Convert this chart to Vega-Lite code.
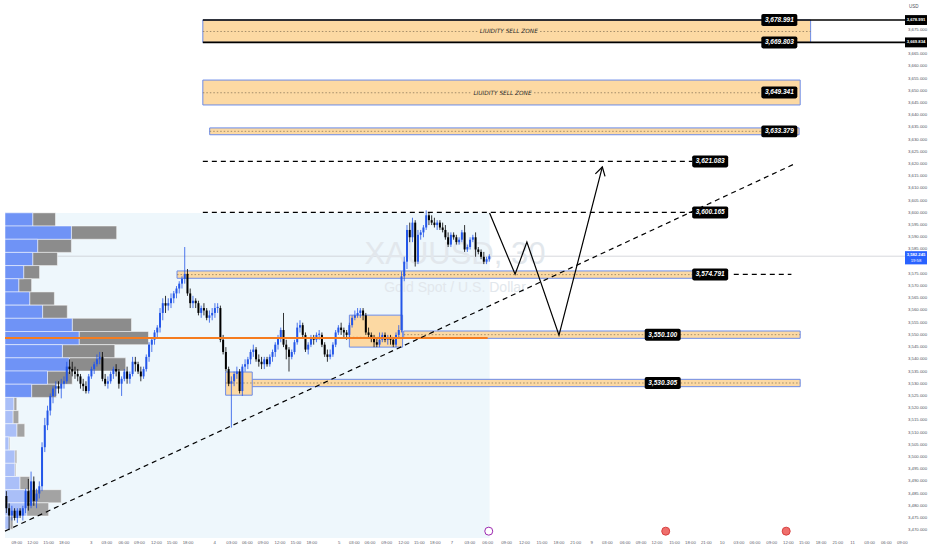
{
"$schema": "https://vega.github.io/schema/vega-lite/v6.json",
"width": 910, "height": 538,
"autosize": {"type": "none"},
"padding": {"left": 0, "top": 0, "right": 22, "bottom": 12},
"background": "#ffffff",
"config": {"view": {"stroke": null}},
"datasets": {
"candles": [
{"t":0.5,"o":3484,"h":3486,"l":3477,"c":3479},{"t":1.5,"o":3479,"h":3481,"l":3470,"c":3476},{"t":2.5,"o":3476,"h":3480,"l":3474,"c":3478},{"t":3.5,"o":3478,"h":3479,"l":3474,"c":3475},{"t":4.5,"o":3475,"h":3479,"l":3473,"c":3478},{"t":5.5,"o":3478,"h":3479,"l":3475,"c":3476},{"t":6.5,"o":3476,"h":3480,"l":3474,"c":3479},{"t":7.5,"o":3479,"h":3487,"l":3477,"c":3486},{"t":8.5,"o":3486,"h":3491,"l":3478,"c":3480},{"t":9.5,"o":3480,"h":3494,"l":3479,"c":3490},
{"t":10.5,"o":3490,"h":3492,"l":3480,"c":3482},{"t":11.5,"o":3482,"h":3487,"l":3479,"c":3485},{"t":12.5,"o":3485,"h":3490,"l":3483,"c":3488},{"t":13.5,"o":3488,"h":3506,"l":3486,"c":3504},{"t":14.5,"o":3504,"h":3516,"l":3502,"c":3513},{"t":15.5,"o":3513,"h":3521,"l":3511,"c":3519},{"t":16.5,"o":3519,"h":3526,"l":3517,"c":3525},{"t":17.5,"o":3525,"h":3529,"l":3522,"c":3528},{"t":18.5,"o":3528,"h":3531,"l":3525,"c":3529},{"t":19.5,"o":3529,"h":3531,"l":3526,"c":3528},
{"t":20.5,"o":3528,"h":3532,"l":3524,"c":3530},{"t":21.5,"o":3530,"h":3533,"l":3528,"c":3531},{"t":22.5,"o":3531,"h":3539,"l":3530,"c":3537},{"t":23.5,"o":3537,"h":3540,"l":3534,"c":3536},{"t":24.5,"o":3536,"h":3539,"l":3533,"c":3535},{"t":25.5,"o":3535,"h":3537,"l":3532,"c":3534},{"t":26.5,"o":3534,"h":3536,"l":3531,"c":3533},{"t":27.5,"o":3533,"h":3534,"l":3528,"c":3530},{"t":28.5,"o":3530,"h":3532,"l":3527,"c":3529},{"t":29.5,"o":3529,"h":3531,"l":3526,"c":3527},
{"t":30.5,"o":3527,"h":3534,"l":3526,"c":3533},{"t":31.5,"o":3533,"h":3537,"l":3532,"c":3536},{"t":32.5,"o":3536,"h":3539,"l":3534,"c":3538},{"t":33.5,"o":3538,"h":3542,"l":3537,"c":3540},{"t":34.5,"o":3540,"h":3543,"l":3538,"c":3541},{"t":35.5,"o":3541,"h":3543,"l":3531,"c":3532},{"t":36.5,"o":3532,"h":3534,"l":3529,"c":3530},{"t":37.5,"o":3530,"h":3533,"l":3528,"c":3531},{"t":38.5,"o":3531,"h":3535,"l":3530,"c":3534},{"t":39.5,"o":3534,"h":3537,"l":3532,"c":3536},
{"t":40.5,"o":3536,"h":3538,"l":3533,"c":3535},{"t":41.5,"o":3535,"h":3536,"l":3528,"c":3530},{"t":42.5,"o":3530,"h":3533,"l":3525,"c":3532},{"t":43.5,"o":3532,"h":3536,"l":3531,"c":3535},{"t":44.5,"o":3535,"h":3537,"l":3530,"c":3532},{"t":45.5,"o":3532,"h":3535,"l":3530,"c":3534},{"t":46.5,"o":3534,"h":3541,"l":3533,"c":3539},{"t":47.5,"o":3539,"h":3541,"l":3535,"c":3538},{"t":48.5,"o":3538,"h":3539,"l":3534,"c":3535},{"t":49.5,"o":3535,"h":3537,"l":3531,"c":3533},
{"t":50.5,"o":3533,"h":3537,"l":3532,"c":3536},{"t":51.5,"o":3536,"h":3542,"l":3535,"c":3541},{"t":52.5,"o":3541,"h":3547,"l":3539,"c":3546},{"t":53.5,"o":3546,"h":3549,"l":3543,"c":3548},{"t":54.5,"o":3548,"h":3552,"l":3546,"c":3551},{"t":55.5,"o":3551,"h":3554,"l":3549,"c":3553},{"t":56.5,"o":3553,"h":3561,"l":3551,"c":3559},{"t":57.5,"o":3559,"h":3565,"l":3556,"c":3563},{"t":58.5,"o":3563,"h":3566,"l":3559,"c":3562},{"t":59.5,"o":3562,"h":3565,"l":3560,"c":3563},
{"t":60.5,"o":3563,"h":3567,"l":3561,"c":3565},{"t":61.5,"o":3565,"h":3568,"l":3563,"c":3567},{"t":62.5,"o":3567,"h":3570,"l":3565,"c":3569},{"t":63.5,"o":3569,"h":3572,"l":3567,"c":3571},{"t":64.5,"o":3571,"h":3574,"l":3569,"c":3573},{"t":65.5,"o":3573,"h":3586,"l":3571,"c":3575},{"t":66.5,"o":3575,"h":3577,"l":3566,"c":3567},{"t":67.5,"o":3567,"h":3569,"l":3561,"c":3563},{"t":68.5,"o":3563,"h":3566,"l":3561,"c":3564},{"t":69.5,"o":3564,"h":3565,"l":3561,"c":3563},
{"t":70.5,"o":3563,"h":3564,"l":3558,"c":3559},{"t":71.5,"o":3559,"h":3562,"l":3557,"c":3561},{"t":72.5,"o":3561,"h":3563,"l":3558,"c":3560},{"t":73.5,"o":3560,"h":3561,"l":3556,"c":3557},{"t":74.5,"o":3557,"h":3560,"l":3555,"c":3558},{"t":75.5,"o":3558,"h":3561,"l":3556,"c":3559},{"t":76.5,"o":3559,"h":3563,"l":3557,"c":3561},{"t":77.5,"o":3561,"h":3563,"l":3559,"c":3561.5},{"t":78.5,"o":3561,"h":3562,"l":3547,"c":3548},{"t":79.5,"o":3548,"h":3550,"l":3542,"c":3543},
{"t":80.5,"o":3543,"h":3545,"l":3535,"c":3536},{"t":81.5,"o":3536,"h":3537,"l":3529,"c":3530},{"t":82.5,"o":3530,"h":3533,"l":3512,"c":3531},{"t":83.5,"o":3531,"h":3535,"l":3529,"c":3534},{"t":84.5,"o":3534,"h":3537,"l":3532,"c":3535},{"t":85.5,"o":3535,"h":3536,"l":3526,"c":3527},{"t":86.5,"o":3527,"h":3538,"l":3525,"c":3537},{"t":87.5,"o":3537,"h":3540,"l":3535,"c":3538},{"t":88.5,"o":3538,"h":3541,"l":3536,"c":3540},{"t":89.5,"o":3540,"h":3544,"l":3538,"c":3543},
{"t":90.5,"o":3543,"h":3546,"l":3541,"c":3544},{"t":91.5,"o":3544,"h":3545,"l":3539,"c":3540},{"t":92.5,"o":3540,"h":3542,"l":3537,"c":3539},{"t":93.5,"o":3539,"h":3541,"l":3536,"c":3538},{"t":94.5,"o":3538,"h":3541,"l":3536,"c":3540},{"t":95.5,"o":3540,"h":3541,"l":3537,"c":3538},{"t":96.5,"o":3538,"h":3542,"l":3537,"c":3541},{"t":97.5,"o":3541,"h":3544,"l":3539,"c":3543},{"t":98.5,"o":3543,"h":3547,"l":3541,"c":3546},{"t":99.5,"o":3546,"h":3550,"l":3544,"c":3549},
{"t":100.5,"o":3549,"h":3553,"l":3547,"c":3552},{"t":101.5,"o":3552,"h":3559,"l":3545,"c":3546},{"t":102.5,"o":3546,"h":3548,"l":3540,"c":3544},{"t":103.5,"o":3544,"h":3545,"l":3535,"c":3541},{"t":104.5,"o":3541,"h":3544,"l":3540,"c":3543},{"t":105.5,"o":3543,"h":3548,"l":3542,"c":3547},{"t":106.5,"o":3547,"h":3555,"l":3546,"c":3553},{"t":107.5,"o":3553,"h":3556,"l":3551,"c":3554},{"t":108.5,"o":3554,"h":3555,"l":3549,"c":3550},{"t":109.5,"o":3550,"h":3551,"l":3543,"c":3544},
{"t":110.5,"o":3544,"h":3547,"l":3542,"c":3546},{"t":111.5,"o":3546,"h":3550,"l":3545,"c":3549},{"t":112.5,"o":3549,"h":3550,"l":3546,"c":3548},{"t":113.5,"o":3548,"h":3551,"l":3547,"c":3550},{"t":114.5,"o":3550,"h":3552,"l":3548,"c":3550.5},{"t":115.5,"o":3550,"h":3551,"l":3545,"c":3546},{"t":116.5,"o":3546,"h":3547,"l":3541,"c":3542},{"t":117.5,"o":3542,"h":3544,"l":3539,"c":3541},{"t":118.5,"o":3541,"h":3544,"l":3540,"c":3542},{"t":119.5,"o":3542,"h":3547,"l":3541,"c":3546},
{"t":120.5,"o":3546,"h":3552,"l":3545,"c":3551},{"t":121.5,"o":3551,"h":3554,"l":3550,"c":3553},{"t":122.5,"o":3553,"h":3555,"l":3550,"c":3552},{"t":123.5,"o":3552,"h":3553,"l":3549,"c":3551},{"t":124.5,"o":3551,"h":3552,"l":3548,"c":3550},{"t":125.5,"o":3550,"h":3555,"l":3549,"c":3554},{"t":126.5,"o":3554,"h":3558,"l":3553,"c":3557},{"t":127.5,"o":3557,"h":3560,"l":3556,"c":3558},{"t":128.5,"o":3558,"h":3561,"l":3557,"c":3559},{"t":129.5,"o":3559,"h":3561,"l":3557,"c":3560},
{"t":130.5,"o":3560,"h":3561,"l":3556,"c":3558},{"t":131.5,"o":3558,"h":3559,"l":3550,"c":3551},{"t":132.5,"o":3551,"h":3553,"l":3549,"c":3550},{"t":133.5,"o":3550,"h":3551,"l":3547,"c":3549},{"t":134.5,"o":3549,"h":3550,"l":3545,"c":3547},{"t":135.5,"o":3547,"h":3549,"l":3545,"c":3546},{"t":136.5,"o":3546,"h":3551,"l":3545,"c":3548},{"t":137.5,"o":3548,"h":3551,"l":3547,"c":3550},{"t":138.5,"o":3550,"h":3551,"l":3547,"c":3548},{"t":139.5,"o":3548,"h":3550,"l":3546,"c":3549},
{"t":140.5,"o":3549,"h":3550,"l":3546,"c":3548},{"t":141.5,"o":3548,"h":3549,"l":3545,"c":3546},{"t":142.5,"o":3546,"h":3551,"l":3545,"c":3550},{"t":143.5,"o":3550,"h":3554,"l":3549,"c":3552},{"t":144.5,"o":3552,"h":3576,"l":3551,"c":3574},{"t":145.5,"o":3574,"h":3582,"l":3572,"c":3580},{"t":146.5,"o":3580,"h":3595,"l":3577,"c":3593},{"t":147.5,"o":3593,"h":3596,"l":3588,"c":3590},{"t":148.5,"o":3590,"h":3598,"l":3588,"c":3596},{"t":149.5,"o":3596,"h":3597,"l":3578,"c":3580},
{"t":150.5,"o":3580,"h":3593,"l":3579,"c":3591},{"t":151.5,"o":3591,"h":3593,"l":3589,"c":3592},{"t":152.5,"o":3592,"h":3595,"l":3590,"c":3594},{"t":153.5,"o":3594,"h":3601,"l":3593,"c":3599},{"t":154.5,"o":3599,"h":3600,"l":3595,"c":3597},{"t":155.5,"o":3597,"h":3599,"l":3595,"c":3596},{"t":156.5,"o":3596,"h":3598,"l":3594,"c":3595},{"t":157.5,"o":3595,"h":3597,"l":3593,"c":3596},{"t":158.5,"o":3596,"h":3597,"l":3593,"c":3594},{"t":159.5,"o":3594,"h":3596,"l":3592,"c":3593},
{"t":160.5,"o":3593,"h":3595,"l":3589,"c":3590},{"t":161.5,"o":3590,"h":3592,"l":3586,"c":3587},{"t":162.5,"o":3587,"h":3592,"l":3586,"c":3591},{"t":163.5,"o":3591,"h":3592,"l":3589,"c":3590},{"t":164.5,"o":3590,"h":3591,"l":3587,"c":3588},{"t":165.5,"o":3588,"h":3590,"l":3587,"c":3589},{"t":166.5,"o":3589,"h":3593,"l":3588,"c":3592},{"t":167.5,"o":3592,"h":3595,"l":3584,"c":3585},{"t":168.5,"o":3585,"h":3587,"l":3584,"c":3586},{"t":169.5,"o":3586,"h":3590,"l":3585,"c":3589},
{"t":170.5,"o":3589,"h":3591,"l":3588,"c":3590},{"t":171.5,"o":3590,"h":3592,"l":3582,"c":3585},{"t":172.5,"o":3585,"h":3586,"l":3583,"c":3584},{"t":173.5,"o":3584,"h":3585,"l":3581,"c":3582},{"t":174.5,"o":3582,"h":3584,"l":3579,"c":3580},{"t":175.5,"o":3580,"h":3582,"l":3579,"c":3581},{"t":176.5,"o":3581,"h":3583,"l":3580,"c":3582.245}
],
"profile": [
{"hi":3600.0,"lo":3594.6,"buy":10.1,"total":18.4},{"hi":3594.6,"lo":3589.2,"buy":24.2,"total":40.7},{"hi":3589.2,"lo":3583.8,"buy":11.9,"total":24.2},{"hi":3583.8,"lo":3578.4,"buy":10.1,"total":19.1},{"hi":3578.4,"lo":3573.0,"buy":6.8,"total":12.6},{"hi":3573.0,"lo":3567.6,"buy":5.0,"total":9.7},{"hi":3567.6,"lo":3562.2,"buy":9.0,"total":18.0},{"hi":3562.2,"lo":3556.8,"buy":13.7,"total":22.7},{"hi":3556.8,"lo":3551.4,"buy":24.5,"total":46.1},{"hi":3551.4,"lo":3546.0,"buy":27.0,"total":52.3},{"hi":3546.0,"lo":3540.6,"buy":20.9,"total":40.0},{"hi":3540.6,"lo":3535.2,"buy":23.4,"total":44.0},
{"hi":3535.2,"lo":3529.8,"buy":15.5,"total":24.5},{"hi":3529.8,"lo":3524.4,"buy":9.7,"total":18.7},{"hi":3524.4,"lo":3519.0,"buy":3.2,"total":4.3},{"hi":3519.0,"lo":3513.6,"buy":2.9,"total":5.0},{"hi":3513.6,"lo":3508.2,"buy":4.3,"total":7.2},{"hi":3508.2,"lo":3502.8,"buy":1.4,"total":1.8},{"hi":3502.8,"lo":3497.4,"buy":3.6,"total":4.3},{"hi":3497.4,"lo":3492.0,"buy":3.6,"total":4.0},{"hi":3492.0,"lo":3486.6,"buy":5.4,"total":9.0},{"hi":3486.6,"lo":3481.2,"buy":8.3,"total":20.5},{"hi":3481.2,"lo":3475.8,"buy":7.9,"total":15.9},{"hi":3475.8,"lo":3470.4,"buy":1.8,"total":2.9}
],
"zones": [
{"x0":72.1,"x1":293.6,"lo":3669.834,"hi":3678.991},
{"x0":72.1,"x1":289.8,"lo":3644.2,"hi":3654.4},
{"x0":74.6,"x1":289.4,"lo":3632.0,"hi":3634.8},
{"x0":62.7,"x1":250.5,"lo":3573.2,"hi":3576.2},
{"x0":145.3,"x1":289.8,"lo":3548.6,"hi":3551.6},
{"x0":80.4,"x1":289.8,"lo":3528.8,"hi":3531.8},
{"x0":125.5,"x1":144.9,"lo":3545.0,"hi":3558.1},
{"x0":80.4,"x1":90.1,"lo":3525.3,"hi":3534.8}
],
"mids": [
{"x0":72.1,"x1":172.3,"p":3674.3},{"x0":195.0,"x1":293.6,"p":3674.3},
{"x0":72.1,"x1":169.8,"p":3649.2},{"x0":192.8,"x1":275.7,"p":3649.2},
{"x0":74.6,"x1":275.7,"p":3633.4},
{"x0":62.7,"x1":250.5,"p":3574.7},
{"x0":145.3,"x1":289.8,"p":3550.1},
{"x0":80.4,"x1":289.8,"p":3530.3},
{"x0":125.5,"x1":144.9,"p":3549.0}
],
"zonetext": [
{"t":183.6,"p":3674.3,"txt":"LIUIDITY SELL ZONE"},
{"t":181.3,"p":3649.2,"txt":"LIUIDITY SELL ZONE"}
],
"dashed": [
{"x0":72.1,"x1":250.5,"p":3621.083},
{"x0":72.1,"x1":250.5,"p":3600.165},
{"x0":265.6,"x1":286.6,"p":3574.791}
],
"edges": [
{"x0":72.1,"x1":332,"p":3678.991},
{"x0":72.1,"x1":332,"p":3669.834}
],
"trend": [
{"t":0,"p":3469.6},{"t":288.4,"p":3620.4}
],
"path": [
{"seq":1,"t":176.6,"p":3599.9},{"seq":2,"t":185.9,"p":3574.9},{"seq":3,"t":190.2,"p":3588.0},{"seq":4,"t":201.9,"p":3549.9},{"seq":5,"t":217.7,"p":3618.8}
],
"tags": [
{"t":282.2,"p":3678.991,"txt":"3,678.991"},{"t":282.2,"p":3669.834,"txt":"3,669.803"},{"t":282.2,"p":3649.341,"txt":"3,649.341"},{"t":282.2,"p":3633.379,"txt":"3,633.379"},{"t":257.0,"p":3621.083,"txt":"3,621.083"},{"t":257.0,"p":3600.165,"txt":"3,600.165"},{"t":257.0,"p":3574.791,"txt":"3,574.791"},{"t":239.7,"p":3550.1,"txt":"3,550.100"},{"t":239.7,"p":3530.305,"txt":"3,530.305"}
],
"axistags": [
{"p":3678.991,"txt":"3,678.991"},{"p":3669.834,"txt":"3,669.834"}
],
"events": [
{"t":176.3,"kind":"news"},{"t":240.8,"kind":"us"},{"t":284.7,"kind":"us"}
],
"xticks": [
{"t":4.3,"lab":"09:00"},{"t":10.1,"lab":"12:00"},{"t":15.9,"lab":"15:00"},{"t":21.6,"lab":"18:00"},{"t":31.4,"lab":"3"},{"t":37.1,"lab":"03:00"},{"t":43.3,"lab":"06:00"},{"t":49.0,"lab":"09:00"},{"t":55.2,"lab":"12:00"},{"t":60.9,"lab":"15:00"},{"t":66.7,"lab":"18:00"},{"t":76.4,"lab":"4"},{"t":82.6,"lab":"03:00"},{"t":88.3,"lab":"06:00"},{"t":94.1,"lab":"09:00"},{"t":100.2,"lab":"12:00"},{"t":106.0,"lab":"15:00"},{"t":111.8,"lab":"18:00"},{"t":121.8,"lab":"5"},{"t":127.3,"lab":"03:00"},{"t":133.0,"lab":"06:00"},{"t":139.1,"lab":"09:00"},{"t":145.3,"lab":"12:00"},{"t":151.0,"lab":"15:00"},{"t":156.8,"lab":"18:00"},{"t":162.9,"lab":"7"},{"t":169.4,"lab":"03:00"},{"t":175.9,"lab":"06:00"},{"t":182.8,"lab":"09:00"},{"t":189.3,"lab":"12:00"},{"t":195.7,"lab":"15:00"},{"t":201.9,"lab":"18:00"},{"t":208.0,"lab":"21:00"},{"t":213.8,"lab":"9"},{"t":219.5,"lab":"03:00"},{"t":226.0,"lab":"06:00"},{"t":231.8,"lab":"09:00"},{"t":237.6,"lab":"12:00"},{"t":244.0,"lab":"15:00"},{"t":249.8,"lab":"18:00"},{"t":255.6,"lab":"21:00"},{"t":261.4,"lab":"10"},{"t":267.5,"lab":"03:00"},{"t":273.3,"lab":"06:00"},{"t":279.4,"lab":"09:00"},{"t":285.5,"lab":"12:00"},{"t":291.3,"lab":"15:00"},{"t":297.4,"lab":"18:00"},{"t":303.5,"lab":"21:00"},{"t":308.9,"lab":"11"},{"t":315.1,"lab":"03:00"},{"t":321.2,"lab":"06:00"},{"t":327.0,"lab":"09:00"}
],
"yticks": [
{"p":3470},{"p":3475},{"p":3480},{"p":3485},{"p":3490},{"p":3495},{"p":3500},{"p":3505},{"p":3510},{"p":3515},{"p":3520},{"p":3525},{"p":3530},{"p":3535},{"p":3540},{"p":3545},{"p":3550},{"p":3555},{"p":3560},{"p":3565},{"p":3570},{"p":3575},{"p":3585},{"p":3590},{"p":3595},{"p":3600},{"p":3605},{"p":3610},{"p":3615},{"p":3620},{"p":3625},{"p":3630},{"p":3635},{"p":3640},{"p":3645},{"p":3650},{"p":3655},{"p":3660},{"p":3665},{"p":3675}
]
},
"layer": [
{"data": {"values": [{}]},
 "mark": {"type": "rect", "color": "#eef7fc"},
 "encoding": {
  "x": {"datum": 0, "type": "quantitative", "scale": {"domain": [0, 328], "nice": false, "zero": false}, "axis": null},
  "x2": {"datum": 176.6},
  "y": {"datum": 3466.8, "type": "quantitative", "scale": {"domain": [3466.8, 3687.2], "nice": false, "zero": false}, "axis": null},
  "y2": {"datum": 3599.9}
 }},
{"data": {"name": "xticks"},
 "mark": {"type": "text", "font": "Liberation Sans", "fontSize": 4.3, "color": "#5d606b", "align": "center", "baseline": "top", "dy": 3},
 "encoding": {"x": {"field": "t", "type": "quantitative", "axis": null}, "y": {"datum": 3466.8, "type": "quantitative", "axis": null}, "text": {"field": "lab", "type": "nominal"}}},
{"data": {"name": "yticks"},
 "mark": {"type": "text", "font": "Liberation Sans", "fontSize": 4.3, "color": "#50535e", "align": "left", "baseline": "middle", "dx": 3},
 "encoding": {"x": {"datum": 328, "type": "quantitative", "axis": null}, "y": {"field": "p", "type": "quantitative", "axis": null}, "text": {"field": "p", "type": "quantitative", "format": ",.3f"}}},
{"data": {"values": [{}]},
 "mark": {"type": "text", "font": "Liberation Sans", "fontSize": 4.5, "color": "#50535e", "align": "left", "baseline": "middle", "dx": 4, "dy": 7, "text": "USD"},
 "encoding": {"x": {"datum": 328, "type": "quantitative", "axis": null}, "y": {"datum": 3687.2, "type": "quantitative", "axis": null}}},
{"data": {"values": [{}]},
 "mark": {"type": "rule", "color": "#c5c8ce", "strokeWidth": 0.7},
 "encoding": {"x": {"datum": 0, "type": "quantitative", "axis": null}, "x2": {"datum": 328}, "y": {"datum": 3582.245, "type": "quantitative", "axis": null}}},
{"data": {"name": "profile"},
 "mark": {"type": "rect", "stroke": "#ffffff", "strokeWidth": 0.5},
 "encoding": {"x": {"field": "buy", "type": "quantitative", "axis": null}, "x2": {"field": "total"}, "y": {"field": "lo", "type": "quantitative", "axis": null}, "y2": {"field": "hi"},
  "fill": {"condition": {"test": "datum.lo >= 3524", "value": "#8c8c8c"}, "value": "#a3a3a3"}}},
{"data": {"name": "profile"},
 "mark": {"type": "rect", "stroke": "#ffffff", "strokeWidth": 0.5},
 "encoding": {"x": {"field": "buy", "type": "quantitative", "axis": null}, "x2": {"datum": 0}, "y": {"field": "lo", "type": "quantitative", "axis": null}, "y2": {"field": "hi"},
  "fill": {"condition": {"test": "datum.lo >= 3524", "value": "#6f93f6"}, "value": "#aabff8"}}},
{"data": {"name": "zones"},
 "mark": {"type": "rect", "fill": "#fcd9a3", "stroke": "#6b8be8", "strokeWidth": 1},
 "encoding": {"x": {"field": "x0", "type": "quantitative", "axis": null}, "x2": {"field": "x1"}, "y": {"field": "lo", "type": "quantitative", "axis": null}, "y2": {"field": "hi"}}},
{"data": {"name": "mids"},
 "mark": {"type": "rule", "color": "#8d7a5c", "strokeWidth": 0.8, "strokeDash": [1.5, 2]},
 "encoding": {"x": {"field": "x0", "type": "quantitative", "axis": null}, "x2": {"field": "x1"}, "y": {"field": "p", "type": "quantitative", "axis": null}}},
{"data": {"name": "zonetext"},
 "mark": {"type": "text", "font": "DejaVu Sans", "fontSize": 5.8, "fontStyle": "italic", "color": "#2a2a2a", "align": "center", "baseline": "middle"},
 "encoding": {"x": {"field": "t", "type": "quantitative", "axis": null}, "y": {"field": "p", "type": "quantitative", "axis": null}, "text": {"field": "txt", "type": "nominal"}}},
{"data": {"values": [{}]},
 "mark": {"type": "text", "font": "Liberation Sans", "fontSize": 31, "color": "#e2e7ec", "align": "center", "baseline": "middle", "text": "XAUUSD, 30"},
 "encoding": {"x": {"datum": 164, "type": "quantitative", "axis": null}, "y": {"datum": 3582.7, "type": "quantitative", "axis": null}}},
{"data": {"values": [{}]},
 "mark": {"type": "text", "font": "Liberation Sans", "fontSize": 14, "color": "#e2e7ec", "align": "center", "baseline": "middle", "text": "Gold Spot / U.S. Dollar"},
 "encoding": {"x": {"datum": 164, "type": "quantitative", "axis": null}, "y": {"datum": 3569.2, "type": "quantitative", "axis": null}}},
{"data": {"name": "candles"},
 "mark": {"type": "rule", "strokeWidth": 0.8},
 "encoding": {"x": {"field": "t", "type": "quantitative", "axis": null}, "y": {"field": "l", "type": "quantitative", "axis": null}, "y2": {"field": "h"},
  "color": {"condition": {"test": "datum.c >= datum.o", "value": "#2356e8"}, "value": "#000000"}}},
{"data": {"name": "candles"},
 "mark": {"type": "bar", "size": 2},
 "encoding": {"x": {"field": "t", "type": "quantitative", "axis": null}, "y": {"field": "o", "type": "quantitative", "axis": null}, "y2": {"field": "c"},
  "color": {"condition": {"test": "datum.c >= datum.o", "value": "#2356e8"}, "value": "#000000"}}},
{"data": {"values": [{}]},
 "mark": {"type": "rule", "color": "#f57c1f", "strokeWidth": 2},
 "encoding": {"x": {"datum": 0, "type": "quantitative", "axis": null}, "x2": {"datum": 175.9}, "y": {"datum": 3548.7, "type": "quantitative", "axis": null}}},
{"data": {"name": "dashed"},
 "mark": {"type": "rule", "color": "#000000", "strokeWidth": 1.3, "strokeDash": [5, 4]},
 "encoding": {"x": {"field": "x0", "type": "quantitative", "axis": null}, "x2": {"field": "x1"}, "y": {"field": "p", "type": "quantitative", "axis": null}}},
{"data": {"name": "trend"},
 "mark": {"type": "line", "color": "#000000", "strokeWidth": 1.2, "strokeDash": [5, 4]},
 "encoding": {"x": {"field": "t", "type": "quantitative", "axis": null}, "y": {"field": "p", "type": "quantitative", "axis": null}}},
{"data": {"name": "edges"},
 "mark": {"type": "rule", "color": "#000000", "strokeWidth": 1.6},
 "encoding": {"x": {"field": "x0", "type": "quantitative", "axis": null}, "x2": {"field": "x1"}, "y": {"field": "p", "type": "quantitative", "axis": null}}},
{"data": {"name": "path"},
 "mark": {"type": "line", "color": "#000000", "strokeWidth": 1.2},
 "encoding": {"x": {"field": "t", "type": "quantitative", "axis": null}, "y": {"field": "p", "type": "quantitative", "axis": null}, "order": {"field": "seq", "type": "quantitative"}}},
{"data": {"values": [{}]},
 "mark": {"type": "point", "shape": "M-0.5,0.85L0,0L0.5,0.85", "size": 400, "filled": false, "stroke": "#000000", "strokeWidth": 1.2, "opacity": 1, "angle": 14.7},
 "encoding": {"x": {"datum": 217.7, "type": "quantitative", "axis": null}, "y": {"datum": 3618.8, "type": "quantitative", "axis": null}}},
{"data": {"name": "tags"},
 "mark": {"type": "point", "shape": "M-0.9,-0.333H0.9Q1,-0.333 1,-0.233V0.233Q1,0.333 0.9,0.333H-0.9Q-1,0.333 -1,0.233V-0.233Q-1,-0.333 -0.9,-0.333Z", "size": 1296, "filled": true, "color": "#000000", "opacity": 1},
 "encoding": {"x": {"field": "t", "type": "quantitative", "axis": null}, "y": {"field": "p", "type": "quantitative", "axis": null}}},
{"data": {"name": "tags"},
 "mark": {"type": "text", "font": "Liberation Sans", "fontSize": 6.5, "fontWeight": "bold", "fontStyle": "italic", "color": "#ffffff", "align": "center", "baseline": "middle"},
 "encoding": {"x": {"field": "t", "type": "quantitative", "axis": null}, "y": {"field": "p", "type": "quantitative", "axis": null}, "text": {"field": "txt", "type": "nominal"}}},
{"data": {"name": "axistags"},
 "mark": {"type": "point", "shape": "M-1,-0.45H1V0.45H-1Z", "size": 484, "filled": true, "color": "#000000", "opacity": 1},
 "encoding": {"x": {"datum": 332, "type": "quantitative", "axis": null}, "y": {"field": "p", "type": "quantitative", "axis": null}}},
{"data": {"name": "axistags"},
 "mark": {"type": "text", "font": "Liberation Sans", "fontSize": 4.2, "fontWeight": "bold", "color": "#ffffff", "align": "center", "baseline": "middle"},
 "encoding": {"x": {"datum": 332, "type": "quantitative", "axis": null}, "y": {"field": "p", "type": "quantitative", "axis": null}, "text": {"field": "txt", "type": "nominal"}}},
{"data": {"values": [{}]},
 "mark": {"type": "point", "shape": "M-1,-0.6H1V0.6H-1Z", "size": 484, "filled": true, "color": "#2962ff", "opacity": 1},
 "encoding": {"x": {"datum": 332, "type": "quantitative", "axis": null}, "y": {"datum": 3581.6, "type": "quantitative", "axis": null}}},
{"data": {"values": [{}]},
 "mark": {"type": "text", "font": "Liberation Sans", "fontSize": 4.2, "fontWeight": "bold", "color": "#ffffff", "align": "center", "baseline": "middle", "dy": -2.6, "text": "3,582.245"},
 "encoding": {"x": {"datum": 332, "type": "quantitative", "axis": null}, "y": {"datum": 3581.6, "type": "quantitative", "axis": null}}},
{"data": {"values": [{}]},
 "mark": {"type": "text", "font": "Liberation Sans", "fontSize": 4.2, "color": "#ffffff", "align": "center", "baseline": "middle", "dy": 2.8, "text": "19:58"},
 "encoding": {"x": {"datum": 332, "type": "quantitative", "axis": null}, "y": {"datum": 3581.6, "type": "quantitative", "axis": null}}},
{"data": {"name": "events"},
 "mark": {"type": "point", "shape": "circle", "size": 64, "filled": true, "opacity": 1, "strokeWidth": 1},
 "encoding": {"x": {"field": "t", "type": "quantitative", "axis": null}, "y": {"datum": 3469.6, "type": "quantitative", "axis": null},
  "fill": {"field": "kind", "type": "nominal", "scale": {"domain": ["news", "us"], "range": ["#ffffff", "#ef6f6c"]}, "legend": null},
  "stroke": {"field": "kind", "type": "nominal", "scale": {"domain": ["news", "us"], "range": ["#9c27b0", "#d84040"]}, "legend": null}}}
]
}
